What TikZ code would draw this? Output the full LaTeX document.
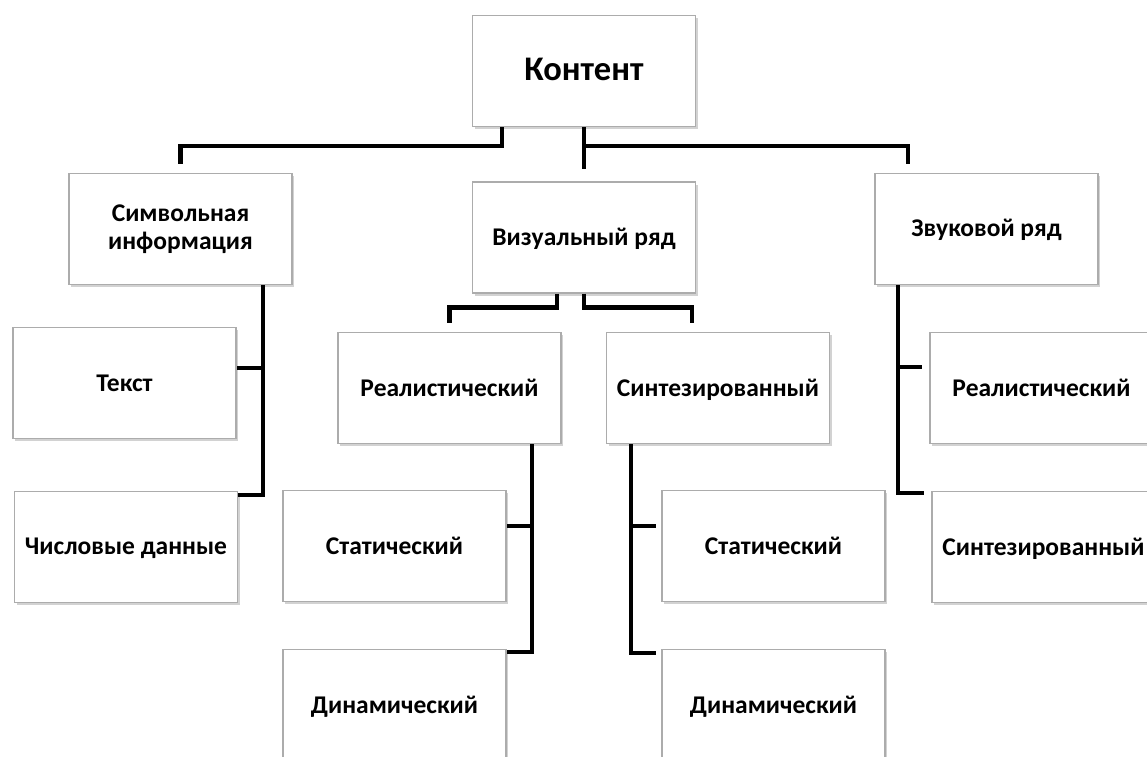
\documentclass[tikz,border=0pt]{standalone}
\usepackage{fontspec}
\setmainfont{Carlito}
\usetikzlibrary{shadows}
\tikzset{
  box/.style={rectangle, draw=gray!65, line width=1.3pt, fill=white,
    minimum width=223pt, minimum height=111pt, inner sep=0pt, align=center,
    font=\bfseries\fontsize{25.5}{28}\selectfont,
    execute at begin node=\rule[-4pt]{0pt}{24pt},
    drop shadow={shadow xshift=2pt, shadow yshift=-2.5pt, opacity=0.35, fill=gray}},
  bigbox/.style={box, font=\bfseries\fontsize{34.5}{38}\selectfont},
  conn/.style={draw=black, line width=4.5pt}
}
\begin{document}
\begin{tikzpicture}[x=1pt,y=-1pt]
\path[fill=white, use as bounding box] (0,0) rectangle (1147,756);
\clip (0,0) rectangle (1147,756);
% nodes
\node[bigbox] (kont) at (584,71) {Контент};
\node[box] (sym) at (180.5,229) {Символьная\\информация};
\node[box] (vis) at (584,237.5) {Визуальный ряд};
\node[box] (zvuk) at (986.5,229) {Звуковой ряд};
\node[box] (txt) at (124.5,383) {Текст};
\node[box] (chisl) at (126,547) {Числовые данные};
\node[box] (real) at (449.5,388) {Реалистический};
\node[box] (sint) at (718,388) {Синтезированный};
\node[box] (stat1) at (394.5,546) {Статический};
\node[box] (dyn1) at (394.5,705) {Динамический};
\node[box] (stat2) at (773.5,546) {Статический};
\node[box] (dyn2) at (773.5,705) {Динамический};
\node[box] (zreal) at (1041.5,388) {Реалистический};
\node[box] (zsint) at (1043.5,547) {Синтезированный};
% connectors from Контент
\draw[conn] ([xshift=-82pt]kont.south) -- ++(0,19) -| ([yshift=9pt]sym.north);
\draw[conn] (kont.south) -- ([yshift=12pt]vis.north);
\draw[conn] ([yshift=-19pt]kont.south) -| ([xshift=-78.5pt,yshift=9pt]zvuk.north);
% from Визуальный ряд
\draw[conn] ([xshift=-27pt]vis.south) -- ++(0,14) -| ([yshift=9pt]real.north);
\draw[conn] (vis.south) -- ++(0,14) -| ([xshift=-26pt,yshift=9pt]sint.north);
% from Символьная информация
\draw[conn] ([xshift=82.5pt]sym.south) |- ([yshift=15pt]txt.east);
\draw[conn] ([xshift=82.5pt]sym.south) |- ([yshift=52pt]chisl.east);
% from Звуковой ряд
\draw[conn] ([xshift=-88.5pt]zvuk.south) |- ([xshift=-7pt,yshift=21pt]zreal.west);
\draw[conn] ([xshift=-88.5pt]zvuk.south) |- ([xshift=-7pt,yshift=54pt]zsint.west);
% from Реалистический (visual)
\draw[conn] ([xshift=82.5pt]real.south) |- ([yshift=20pt]stat1.east);
\draw[conn] ([xshift=82.5pt]real.south) |- ([yshift=53pt]dyn1.east);
% from Синтезированный (visual)
\draw[conn] ([xshift=-87pt]sint.south) |- ([xshift=-5pt,yshift=20pt]stat2.west);
\draw[conn] ([xshift=-87pt]sint.south) |- ([xshift=-5pt,yshift=52pt]dyn2.west);
\end{tikzpicture}
\end{document}
